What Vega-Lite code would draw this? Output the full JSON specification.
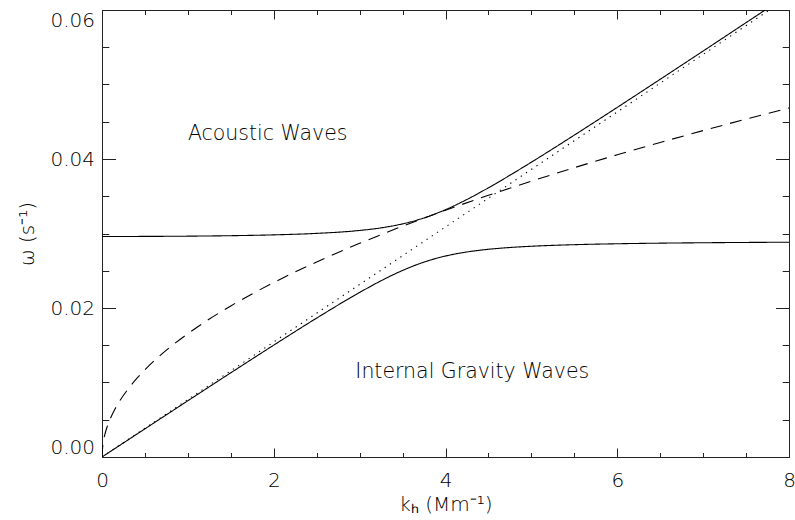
{
  "$schema": "https://vega.github.io/schema/vega-lite/v6.json",
  "width": 687,
  "height": 447,
  "autosize": {"type": "none"},
  "padding": {"left": 102, "top": 10, "right": 6, "bottom": 63},
  "background": "white",
  "config": {
    "view": {"stroke": null},
    "font": "DejaVu Sans",
    "axis": {
      "grid": false,
      "domainColor": "#222",
      "domainWidth": 1,
      "tickColor": "#222",
      "tickWidth": 1,
      "labelFont": "DejaVu Sans",
      "labelFontSize": 20,
      "labelColor": "black",
      "labelFontWeight": 300,
      "titleFont": "DejaVu Sans",
      "titleFontSize": 20,
      "titleFontWeight": 300,
      "titleColor": "black",
      "labelOverlap": false
    }
  },
  "layer": [
    {
      "data": {
        "values": [
          {"k": 0, "w": 0.0296, "curve": "acoustic"},
          {"k": 0.5, "w": 0.02961, "curve": "acoustic"},
          {"k": 1, "w": 0.029643, "curve": "acoustic"},
          {"k": 1.5, "w": 0.029706, "curve": "acoustic"},
          {"k": 2, "w": 0.029817, "curve": "acoustic"},
          {"k": 2.5, "w": 0.030016, "curve": "acoustic"},
          {"k": 3, "w": 0.030409, "curve": "acoustic"},
          {"k": 3.25, "w": 0.030758, "curve": "acoustic"},
          {"k": 3.5, "w": 0.031292, "curve": "acoustic"},
          {"k": 3.75, "w": 0.032091, "curve": "acoustic"},
          {"k": 4, "w": 0.033197, "curve": "acoustic"},
          {"k": 4.25, "w": 0.034571, "curve": "acoustic"},
          {"k": 4.5, "w": 0.036134, "curve": "acoustic"},
          {"k": 4.75, "w": 0.037816, "curve": "acoustic"},
          {"k": 5, "w": 0.039571, "curve": "acoustic"},
          {"k": 5.5, "w": 0.043207, "curve": "acoustic"},
          {"k": 6, "w": 0.04693, "curve": "acoustic"},
          {"k": 6.5, "w": 0.050698, "curve": "acoustic"},
          {"k": 7, "w": 0.054492, "curve": "acoustic"},
          {"k": 7.5, "w": 0.058302, "curve": "acoustic"},
          {"k": 7.75, "w": 0.060211, "curve": "acoustic"},
          {"k": 8, "w": 0.062123, "curve": "acoustic"},
          {"k": 0, "w": 0, "curve": "gravity"},
          {"k": 0.5, "w": 0.0037804, "curve": "gravity"},
          {"k": 1, "w": 0.0075525, "curve": "gravity"},
          {"k": 1.5, "w": 0.011305, "curve": "gravity"},
          {"k": 2, "w": 0.015017, "curve": "gravity"},
          {"k": 2.5, "w": 0.018647, "curve": "gravity"},
          {"k": 3, "w": 0.022087, "curve": "gravity"},
          {"k": 3.25, "w": 0.023656, "curve": "gravity"},
          {"k": 3.5, "w": 0.025041, "curve": "gravity"},
          {"k": 3.75, "w": 0.026161, "curve": "gravity"},
          {"k": 4, "w": 0.026976, "curve": "gravity"},
          {"k": 4.25, "w": 0.027523, "curve": "gravity"},
          {"k": 4.5, "w": 0.027881, "curve": "gravity"},
          {"k": 4.75, "w": 0.02812, "curve": "gravity"},
          {"k": 5, "w": 0.028288, "curve": "gravity"},
          {"k": 5.5, "w": 0.028499, "curve": "gravity"},
          {"k": 6, "w": 0.028623, "curve": "gravity"},
          {"k": 6.5, "w": 0.028704, "curve": "gravity"},
          {"k": 7, "w": 0.028759, "curve": "gravity"},
          {"k": 7.5, "w": 0.0288, "curve": "gravity"},
          {"k": 7.75, "w": 0.028816, "curve": "gravity"},
          {"k": 8, "w": 0.028831, "curve": "gravity"},
          {"k": 0, "w": 0, "curve": "fmode"},
          {"k": 0.01, "w": 0.001656, "curve": "fmode"},
          {"k": 0.03, "w": 0.002868, "curve": "fmode"},
          {"k": 0.06, "w": 0.004056, "curve": "fmode"},
          {"k": 0.1, "w": 0.005236, "curve": "fmode"},
          {"k": 0.15, "w": 0.006413, "curve": "fmode"},
          {"k": 0.2, "w": 0.007406, "curve": "fmode"},
          {"k": 0.3, "w": 0.00907, "curve": "fmode"},
          {"k": 0.4, "w": 0.010473, "curve": "fmode"},
          {"k": 0.5, "w": 0.011709, "curve": "fmode"},
          {"k": 0.75, "w": 0.014341, "curve": "fmode"},
          {"k": 1, "w": 0.016559, "curve": "fmode"},
          {"k": 1.25, "w": 0.018514, "curve": "fmode"},
          {"k": 1.5, "w": 0.020281, "curve": "fmode"},
          {"k": 2, "w": 0.023418, "curve": "fmode"},
          {"k": 2.5, "w": 0.026182, "curve": "fmode"},
          {"k": 3, "w": 0.028681, "curve": "fmode"},
          {"k": 3.5, "w": 0.030979, "curve": "fmode"},
          {"k": 4, "w": 0.033118, "curve": "fmode"},
          {"k": 4.5, "w": 0.035127, "curve": "fmode"},
          {"k": 5, "w": 0.037027, "curve": "fmode"},
          {"k": 5.5, "w": 0.038834, "curve": "fmode"},
          {"k": 6, "w": 0.040561, "curve": "fmode"},
          {"k": 6.5, "w": 0.042218, "curve": "fmode"},
          {"k": 7, "w": 0.043811, "curve": "fmode"},
          {"k": 7.5, "w": 0.045349, "curve": "fmode"},
          {"k": 8, "w": 0.046837, "curve": "fmode"},
          {"k": 0, "w": 0, "curve": "sound"},
          {"k": 8, "w": 0.06176, "curve": "sound"}
        ]
      },
      "mark": {"type": "line", "clip": true, "interpolate": "monotone", "color": "black", "strokeWidth": 1.1, "strokeCap": "butt"},
      "encoding": {
        "x": {
          "field": "k", "type": "quantitative",
          "scale": {"domain": [0, 8], "nice": false, "zero": false},
          "axis": {
            "orient": "bottom",
            "values": [0, 0.5, 1, 1.5, 2, 2.5, 3, 3.5, 4, 4.5, 5, 5.5, 6, 6.5, 7, 7.5, 8],
            "tickSize": {"condition": {"test": "datum.value % 2 === 0", "value": -9}, "value": -4.5},
            "labelExpr": "datum.value % 2 === 0 ? format(datum.value, 'd') : ''",
            "labelPadding": 22,
            "labelFlush": false,
            "title": "kₕ (Mm⁻¹)",
            "titlePadding": 0
          }
        },
        "y": {
          "field": "w", "type": "quantitative",
          "scale": {"domain": [0, 0.06], "nice": false, "zero": false},
          "axis": {
            "orient": "left",
            "values": [0, 0.005, 0.01, 0.015, 0.02, 0.025, 0.03, 0.035, 0.04, 0.045, 0.05, 0.055, 0.06],
            "tickSize": {"condition": {"test": "abs(datum.value * 50 - round(datum.value * 50)) < 0.000001", "value": -13.5}, "value": -6.8},
            "labelExpr": "abs(datum.value * 50 - round(datum.value * 50)) < 0.000001 ? format(datum.value, '.2f') : ''",
            "labelPadding": 21,
            "labelFlush": true,
            "title": "ω (s⁻¹)",
            "titlePadding": 12
          }
        },
        "detail": {"field": "curve"},
        "strokeDash": {
          "field": "curve", "type": "nominal", "legend": null,
          "scale": {"domain": ["acoustic", "gravity", "fmode", "sound"], "range": [[1, 0], [1, 0], [12, 8], [1.3, 5]]}
        }
      }
    },
    {
      "data": {
        "values": [
          {"k": 1.0, "w": 0.0434, "label": "Acoustic Waves"},
          {"k": 2.95, "w": 0.0114, "label": "Internal Gravity Waves"}
        ]
      },
      "mark": {"type": "text", "align": "left", "baseline": "middle", "fontSize": 20.5, "font": "DejaVu Sans", "fontWeight": 300, "color": "black"},
      "encoding": {
        "x": {
          "field": "k", "type": "quantitative",
          "axis": {
            "orient": "top",
            "values": [0, 0.5, 1, 1.5, 2, 2.5, 3, 3.5, 4, 4.5, 5, 5.5, 6, 6.5, 7, 7.5, 8],
            "tickSize": {"condition": {"test": "datum.value % 2 === 0", "value": -9}, "value": -4.5},
            "labels": false,
            "title": null
          }
        },
        "y": {
          "field": "w", "type": "quantitative",
          "axis": {
            "orient": "right",
            "values": [0, 0.005, 0.01, 0.015, 0.02, 0.025, 0.03, 0.035, 0.04, 0.045, 0.05, 0.055, 0.06],
            "tickSize": {"condition": {"test": "abs(datum.value * 50 - round(datum.value * 50)) < 0.000001", "value": -13.5}, "value": -6.8},
            "labels": false,
            "title": null
          }
        },
        "text": {"field": "label", "type": "nominal"}
      }
    }
  ],
  "resolve": {"scale": {"x": "shared", "y": "shared"}, "axis": {"x": "independent", "y": "independent"}}
}
